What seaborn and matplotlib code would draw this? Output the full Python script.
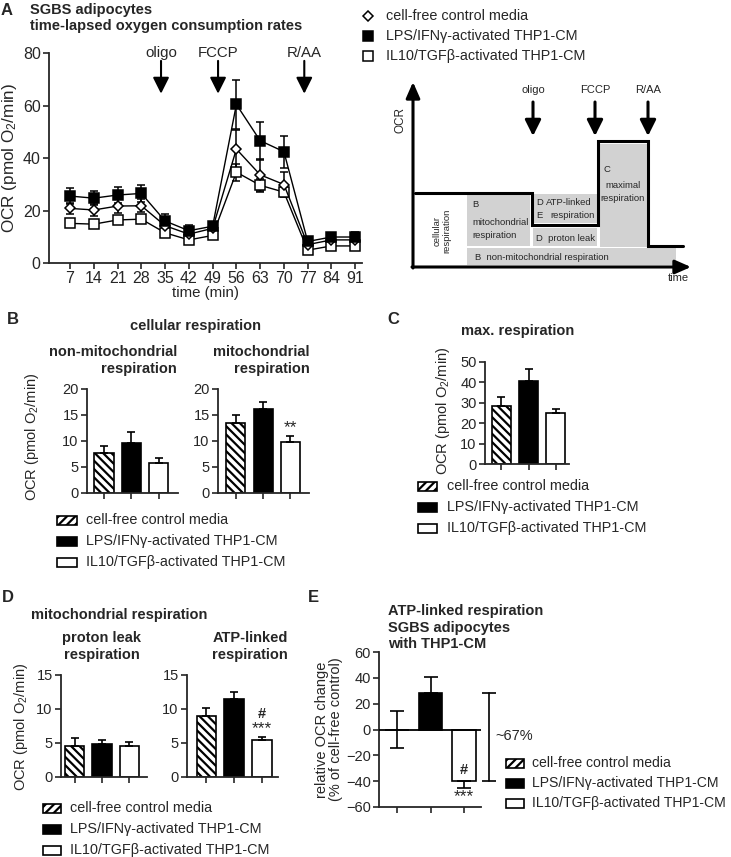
import numpy as np
import pandas as pd
import matplotlib
matplotlib.use("Agg")
import matplotlib.pyplot as plt
from matplotlib.patches import Rectangle
import seaborn as sns

# ---------------- data ----------------
time_min = [7, 14, 21, 28, 35, 42, 49, 56, 63, 70, 77, 84, 91]
ocr_control = [20.8, 20.2, 21.7, 21.8, 14.2, 11.0, 13.2, 43.4, 33.6, 29.9, 7.0, 8.8, 8.8]
ocr_control_err = [2.2, 2.3, 2.5, 2.5, 1.5, 1.2, 1.2, 7.4, 6.0, 4.9, 1.0, 1.0, 1.0]
ocr_lps = [25.5, 24.7, 25.9, 26.5, 16.0, 12.3, 14.0, 60.4, 46.6, 42.4, 8.2, 9.9, 9.9]
ocr_lps_err = [3.2, 2.7, 3.0, 3.4, 2.7, 2.1, 1.8, 9.4, 7.2, 6.1, 1.2, 1.6, 1.9]
ocr_il10 = [15.1, 14.8, 16.4, 16.7, 11.5, 8.8, 10.5, 34.6, 29.6, 27.0, 4.9, 6.5, 6.5]
ocr_il10_err = [1.0, 1.0, 1.0, 1.2, 1.0, 1.0, 1.0, 3.3, 2.4, 1.5, 1.0, 1.0, 1.0]
injections = ["oligo", "FCCP", "R/AA"]
injection_times = [33.8, 50.6, 76.0]

groups = ["cell-free control media", "LPS/IFNγ-activated THP1-CM", "IL10/TGFβ-activated THP1-CM"]
nonmito = [7.7, 9.6, 5.7]
nonmito_err = [1.4, 2.1, 1.0]
mito = [13.5, 16.2, 9.9]
mito_err = [1.5, 1.3, 1.0]
maxresp = [28.3, 40.6, 24.8]
maxresp_err = [4.6, 5.9, 2.4]
leak = [4.6, 4.9, 4.6]
leak_err = [1.1, 0.6, 0.6]
atp = [9.0, 11.5, 5.4]
atp_err = [1.2, 1.0, 0.5]
rel_change = [0.0, 28.6, -39.5]
rel_change_err = [14.2, 11.7, 6.0]

# ---------------- style ----------------
sns.set_style("ticks")
plt.rcParams["font.family"] = ["Liberation Sans", "DejaVu Sans"]
plt.rcParams["mathtext.fontset"] = "custom"
plt.rcParams["mathtext.rm"] = "Liberation Sans"
plt.rcParams["mathtext.it"] = "Liberation Sans:italic"
plt.rcParams["mathtext.bf"] = "Liberation Sans:bold"
plt.rcParams["hatch.linewidth"] = 1.6

W, H = 731, 857
fig = plt.figure(figsize=(W / 100, H / 100), dpi=100)
fig.patch.set_facecolor("white")

bar_colors = ["white", "black", "white"]
OCR_LABEL = "OCR (pmol O$_2$/min)"
LEG_FS = 10.35


def add_ax(left, top, right, bottom):
    return fig.add_axes([left / W, 1 - bottom / H, (right - left) / W, (bottom - top) / H])


def style_ax(ax, fs=10.5):
    sns.despine(ax=ax)
    for s in ("left", "bottom"):
        ax.spines[s].set_linewidth(1.3)
    ax.tick_params(direction="out", length=4, width=1.2, labelsize=fs, pad=2)
    ax.set_xlabel("")
    ax.set_ylabel("")


def bar_panel(rect, vals, errs, ylim, yticks, xlim, cap=3.0, fs=10.5):
    ax = add_ax(*rect)
    df = pd.DataFrame({"group": groups, "value": vals})
    sns.barplot(data=df, x="group", y="value", hue="group", order=groups, hue_order=groups,
                palette=dict(zip(groups, bar_colors)), saturation=1, width=0.7,
                edgecolor="black", linewidth=1.2, errorbar=None, legend=False, ax=ax)
    ax.patches[0].set_hatch("\\\\\\\\")
    ax.errorbar(range(len(vals)), vals, yerr=[np.zeros(len(errs)), errs], fmt="none",
                ecolor="black", elinewidth=1.2, capsize=cap, capthick=1.2, zorder=4)
    ax.set_ylim(*ylim)
    ax.set_yticks(yticks)
    ax.set_xlim(*xlim)
    ax.set_xticks(range(len(vals)))
    ax.set_xticklabels([])
    style_ax(ax, fs)
    return ax


# ---------------- Panel A ----------------
axA = add_ax(49, 53, 362, 263)
series = [(ocr_il10, ocr_il10_err, "s", 7, "white"),
          (ocr_control, ocr_control_err, "D", 5, "white"),
          (ocr_lps, ocr_lps_err, "s", 7, "black")]
for i, (vals, errs, mk, ms, fc) in enumerate(series):
    axA.errorbar(time_min, vals, yerr=errs, fmt="none", ecolor="black", elinewidth=1.1,
                 capsize=3.2, capthick=1.1, zorder=2 + i)
    sns.lineplot(x=time_min, y=vals, ax=axA, color="black", lw=1.0, marker=mk, markersize=ms,
                 markerfacecolor=fc, markeredgecolor="black", markeredgewidth=1.1, zorder=5 + i)
axA.set_xlim(0.8, 93.0)
axA.set_ylim(0, 80)
axA.set_xticks(time_min)
axA.set_yticks([0, 20, 40, 60, 80])
style_ax(axA, 11.5)
axA.set_xlabel("time (min)", fontsize=10.8, labelpad=0)
axA.set_ylabel(OCR_LABEL, fontsize=12.3, labelpad=3)
for lab, t in zip(injections, injection_times):
    axA.annotate("", xy=(t, 64.5), xytext=(t, 77.0),
                 arrowprops=dict(arrowstyle="-|>,head_length=0.7,head_width=0.35",
                                 color="black", lw=1.5, mutation_scale=14, shrinkA=0, shrinkB=0),
                 annotation_clip=False)
    axA.text(t, 80.0, lab, ha="center", va="center", fontsize=10.8)

# ---------------- Panels B ----------------
axB1 = bar_panel((87, 389, 178, 493), nonmito, nonmito_err, (0, 20), [0, 5, 10, 15, 20], (-0.62, 2.7))
axB2 = bar_panel((218, 389, 309, 493), mito, mito_err, (0, 20), [0, 5, 10, 15, 20], (-0.65, 2.68))
axB2.text(2, mito[2] + mito_err[2] + 0.3, "**", ha="center", va="bottom", fontsize=12.5)

# ---------------- Panel C ----------------
axC = bar_panel((485, 362, 569, 464), maxresp, maxresp_err, (0, 50), [0, 10, 20, 30, 40, 50], (-0.6, 2.48))

# ---------------- Panels D ----------------
axD1 = bar_panel((61, 675, 147, 777), leak, leak_err, (0, 15), [0, 5, 10, 15], (-0.5, 2.65))
axD2 = bar_panel((187, 675, 278, 777), atp, atp_err, (0, 15), [0, 5, 10, 15], (-0.7, 2.58))
axD2.text(2, atp[2] + atp_err[2] + 0.05, "***", ha="center", va="bottom", fontsize=12.5)
axD2.text(2, atp[2] + atp_err[2] + 2.3, "#", ha="center", va="bottom", fontsize=10.5, fontweight="bold")

# ---------------- Panel E ----------------
axE = add_ax(379, 652, 481, 807)
dfE = pd.DataFrame({"group": groups, "value": rel_change})
sns.barplot(data=dfE, x="group", y="value", hue="group", order=groups, hue_order=groups,
            palette=dict(zip(groups, bar_colors)), saturation=1, width=0.7,
            edgecolor="black", linewidth=1.2, errorbar=None, legend=False, ax=axE)
axE.patches[0].set_hatch("\\\\\\\\")
lower = [e if v <= 0 else 0 for v, e in zip(rel_change, rel_change_err)]
upper = [e if v >= 0 else 0 for v, e in zip(rel_change, rel_change_err)]
axE.errorbar(range(3), rel_change, yerr=[lower, upper], fmt="none", ecolor="black",
             elinewidth=1.2, capsize=5, capthick=1.2, zorder=4)
axE.axhline(0, color="black", lw=1.3, zorder=5)
axE.set_ylim(-60, 60)
axE.set_yticks([-60, -40, -20, 0, 20, 40, 60])
axE.set_xlim(-0.54, 2.5)
axE.set_xticks(range(3))
axE.set_xticklabels([])
style_ax(axE, 10.5)
axE.set_ylabel("relative OCR change\n(% of cell-free control)", fontsize=10.5, labelpad=2,
               linespacing=1.0)
axE.text(2, rel_change[2] + 8.0, "#", ha="center", va="center", fontsize=10.5, fontweight="bold")
axE.text(2, rel_change[2] - rel_change_err[2] - 0.5, "***", ha="center", va="top", fontsize=12.5)
bx = 2.75
axE.plot([bx, bx], [rel_change[1], rel_change[2]], color="black", lw=1.2, clip_on=False)
axE.plot([bx, bx], [rel_change[1], rel_change[2]], ls="none", marker="_", ms=10, mew=1.2,
         color="black", clip_on=False)
axE.text(bx + 0.18, -5, "~67%", ha="left", va="center", fontsize=10.5)

# ---------------- overlay (titles, legends, schematic) ----------------
ov = fig.add_axes([0, 0, 1, 1], zorder=10)
ov.set_xlim(0, W)
ov.set_ylim(H, 0)
ov.axis("off")

BF = dict(fontweight="bold", fontsize=10.5)
# panel letters
for letter, x, y in [("A", 7, 10), ("B", 13, 320), ("C", 393, 320), ("D", 8, 598), ("E", 313, 598)]:
    ov.text(x, y, letter, fontsize=12, fontweight="bold", ha="center", va="center")
# A titles
ov.text(30, 10, "SGBS adipocytes", ha="left", va="center", **BF)
ov.text(30, 26, "time-lapsed oxygen consumption rates", ha="left", va="center", **BF)
# B titles
ov.text(195, 326, "cellular respiration", ha="center", va="center", **BF)
ov.text(177, 352, "non-mitochondrial", ha="right", va="center", **BF)
ov.text(177, 369, "respiration", ha="right", va="center", **BF)
ov.text(310, 352, "mitochondrial", ha="right", va="center", **BF)
ov.text(310, 369, "respiration", ha="right", va="center", **BF)
ov.text(32, 437, OCR_LABEL, rotation=90, ha="center", va="center", fontsize=10.5)
# C titles
ov.text(518, 331, "max. respiration", ha="center", va="center", **BF)
ov.text(443, 411, OCR_LABEL, rotation=90, ha="center", va="center", fontsize=10.5)
# D titles
ov.text(31, 615, "mitochondrial respiration", ha="left", va="center", **BF)
ov.text(102, 638, "proton leak", ha="center", va="center", **BF)
ov.text(102, 655, "respiration", ha="center", va="center", **BF)
ov.text(250, 638, "ATP-linked", ha="center", va="center", **BF)
ov.text(250, 655, "respiration", ha="center", va="center", **BF)
ov.text(21, 727, OCR_LABEL, rotation=90, ha="center", va="center", fontsize=10.5)
# E titles
ov.text(388, 611, "ATP-linked respiration", ha="left", va="center", **BF)
ov.text(388, 628, "SGBS adipocytes", ha="left", va="center", **BF)
ov.text(388, 644, "with THP1-CM", ha="left", va="center", **BF)


def draw_bar_legend(x0, x1, rows, tx, fs=LEG_FS):
    hatches = ["////", None, None]
    for yy, lab, fc, hh in zip(rows, groups, bar_colors, hatches):
        ov.add_patch(Rectangle((x0, yy - 4.5), x1 - x0, 9, facecolor=fc, edgecolor="black",
                               lw=1.2, hatch=hh))
        ov.text(tx, yy, lab, ha="left", va="center", fontsize=fs)


draw_bar_legend(57, 77, [520, 541, 562], 86)
draw_bar_legend(418, 437, [486, 507, 528], 447)
draw_bar_legend(43, 61, [808, 829, 850], 70)
draw_bar_legend(506, 524, [763, 783, 803], 532, fs=10.1)

# Panel A legend (markers)
for yy, lab, mk, ms, fc in [(16, groups[0], "D", 5, "white"), (36, groups[1], "s", 7, "black"),
                            (56, groups[2], "s", 7, "white")]:
    ov.plot([368], [yy], marker=mk, ms=ms, mfc=fc, mec="black", mew=1.1, ls="none")
    ov.text(386, yy, lab, ha="left", va="center", fontsize=LEG_FS)

# ---------------- schematic ----------------
GRAY = "#d2d2d2"
boxes = [(467, 195, 530, 246), (533, 194, 597, 223), (533, 228, 597, 246),
         (600, 144, 647, 247), (467, 248, 676, 265)]
for (x0, y0, x1, y1) in boxes:
    ov.add_patch(Rectangle((x0, y0), x1 - x0, y1 - y0, facecolor=GRAY, edgecolor="none"))
# axes arrows
ov.annotate("", xy=(413, 82), xytext=(413, 268),
            arrowprops=dict(arrowstyle="-|>,head_length=0.8,head_width=0.35", lw=2.2, color="black",
                            mutation_scale=12, shrinkA=0, shrinkB=0))
ov.annotate("", xy=(691, 267), xytext=(412, 267),
            arrowprops=dict(arrowstyle="-|>,head_length=0.8,head_width=0.35", lw=2.2, color="black",
                            mutation_scale=12, shrinkA=0, shrinkB=0))
ov.plot([415, 532, 532, 598, 598, 648, 648, 683], [193, 193, 225, 225, 141, 141, 246, 246],
        color="black", lw=2.2, solid_joinstyle="miter")
for lab, x in zip(injections, [533, 595, 648]):
    ov.annotate("", xy=(x, 136), xytext=(x, 102),
                arrowprops=dict(arrowstyle="-|>,head_length=0.8,head_width=0.4", lw=2.2,
                                color="black", mutation_scale=12, shrinkA=0, shrinkB=0))
    ov.text(x, 90, lab, ha="center", va="center", fontsize=8)
SF = 6.8
ov.text(400, 120, "OCR", rotation=90, ha="center", va="center", fontsize=8.5)
ov.text(678, 278, "time", ha="center", va="center", fontsize=8)
ov.text(442, 231, "cellular\nrespiration", rotation=90, ha="center", va="center", fontsize=SF,
        linespacing=1.0)
ov.text(472, 204, "B", ha="left", va="center", fontsize=SF)
ov.text(472, 222, "mitochondrial", ha="left", va="center", fontsize=SF)
ov.text(472, 235, "respiration", ha="left", va="center", fontsize=SF)
ov.text(536, 202, "D", ha="left", va="center", fontsize=SF)
ov.text(536, 215, "E", ha="left", va="center", fontsize=SF)
ov.text(546, 202, "ATP-linked", ha="left", va="center", fontsize=SF)
ov.text(550, 215, "respiration", ha="left", va="center", fontsize=SF)
ov.text(536, 238, "D  proton leak", ha="left", va="center", fontsize=SF)
ov.text(603, 169, "C", ha="left", va="center", fontsize=SF)
ov.text(623, 185, "maximal", ha="center", va="center", fontsize=SF)
ov.text(623, 198, "respiration", ha="center", va="center", fontsize=SF)
ov.text(475, 257, "B  non-mitochondrial respiration", ha="left", va="center", fontsize=SF)

fig.savefig("out.png", dpi=100, facecolor="white")
